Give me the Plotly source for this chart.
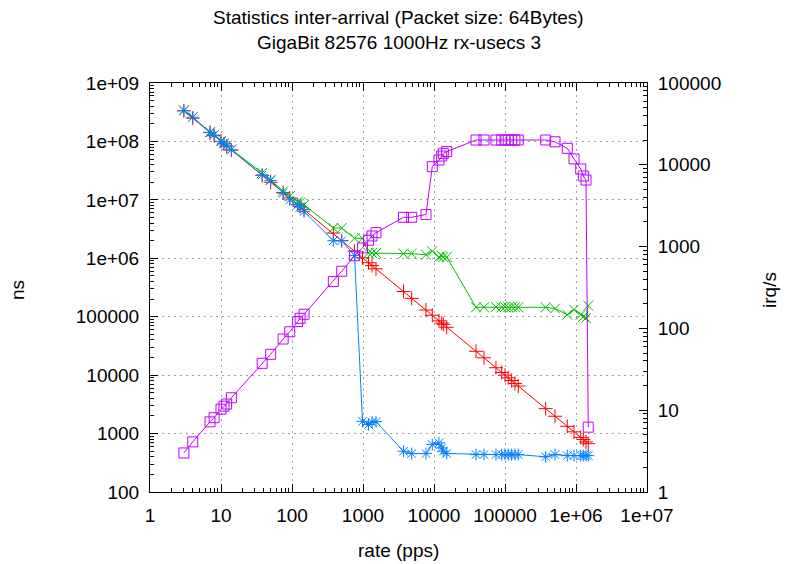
import plotly.graph_objects as go

# ---- data ----
rate_pps = [3, 4, 7, 8, 10, 11, 12, 14, 38, 50, 75, 93, 120, 130, 148,
            382, 501, 760, 984, 1195, 1340, 1525,
            3720, 4850, 7710, 9460, 11750, 12830, 13520, 15100,
            39080, 50600, 74600, 89900, 100000, 111000, 124000, 138000, 154000,
            374000, 506000, 754000, 937000, 1165000, 1268000, 1383000, 1488000]

red_ns = [3.33e8, 2.5e8, 1.43e8, 1.25e8, 1.0e8, 9.1e7, 8.3e7, 7.1e7, 2.63e7, 2.0e7, 1.33e7, 1.08e7, 8.3e6, 7.7e6, 6.8e6,
          2.7e6, 2.0e6, 1.32e6, 1.02e6, 8.4e5, 7.5e5, 6.6e5,
          2.7e5, 2.06e5, 1.3e5, 1.06e5, 8.5e4, 7.8e4, 7.4e4, 6.6e4,
          2.56e4, 1.98e4, 1.34e4, 1.11e4, 1.0e4, 9.0e3, 8.1e3, 7.2e3, 6.5e3,
          2670, 1980, 1330, 1070, 860, 790, 720, 672]

green_ns = [3.4e8, 2.6e8, 1.45e8, 1.3e8, 1.02e8, 9.3e7, 8.5e7, 7.3e7, 2.9e7, 2.2e7, 1.4e7, 1.15e7, 9.3e6, 9.0e6, 8.2e6,
            3.3e6, 3.3e6, 2.2e6, 2.2e6, 1.23e6, 1.23e6, 1.23e6,
            1.2e6, 1.2e6, 1.15e6, 1.32e6, 1.05e6, 1.1e6, 1.05e6, 1.05e6,
            1.45e5, 1.45e5, 1.47e5, 1.45e5, 1.47e5, 1.45e5, 1.47e5, 1.45e5, 1.45e5,
            1.45e5, 1.38e5, 1.08e5, 1.32e5, 1.08e5, 1.0e5, 9.5e4, 1.55e5]

blue_ns = [3.37e8, 2.6e8, 1.41e8, 1.29e8, 9.9e7, 9.3e7, 8.4e7, 7.2e7, 2.67e7, 2.14e7, 1.3e7, 1.0e7, 8.2e6, 7.5e6, 6.3e6,
           2.0e6, 2.0e6, 1.12e6, 1620, 1430, 1560, 1600,
           498, 455, 455, 649, 693, 569, 498, 455,
           437, 437, 437, 437, 437, 437, 437, 437, 437,
           400, 437, 420, 420, 420, 420, 420, 420]

magenta_irq = [3.0, 4.1, 7.2, 8.1, 10.3, 11.2, 11.9, 14.2, 37.4, 48.2, 74.2, 91, 121, 133, 149,
               374, 500, 772, 962, 1195, 1349, 1480,
               2280, 2280, 2470, 9490, 11450, 12800, 13800, 14500,
               20100, 20100, 20100, 20100, 20100, 20100, 20100, 20100, 20100,
               20100, 19100, 15900, 11800, 8890, 7300, 6510, 6.2]

x_ticks = [1, 10, 100, 1000, 10000, 100000, 1e6, 1e7]
x_ticktext = ["1", "10", "100", "1000", "10000", "100000", "1e+06", "1e+07"]
y_ticks = [1e2, 1e3, 1e4, 1e5, 1e6, 1e7, 1e8, 1e9]
y_ticktext = ["100", "1000", "10000", "100000", "1e+06", "1e+07", "1e+08", "1e+09"]
y2_ticks = [1, 10, 100, 1000, 10000, 100000]
y2_ticktext = ["1", "10", "100", "1000", "10000", "100000"]

title1 = "Statistics inter-arrival (Packet size: 64Bytes)"
title2 = "GigaBit 82576 1000Hz rx-usecs 3"

FONT = "Liberation Sans"
FS = 19


def minors(lo, hi):
    out = []
    for e in range(lo, hi):
        for m in range(2, 10):
            out.append(m * 10 ** e)
    return out


fig = go.Figure()

series = [
    (red_ns, "#ff0000", "cross-thin", "y"),
    (green_ns, "#00c000", "x-thin", "y"),
    (blue_ns, "#0080ff", "asterisk", "y"),
]
for vals, col, sym, ax in series:
    fig.add_trace(go.Scatter(
        x=rate_pps, y=vals, mode="lines+markers", yaxis=ax,
        line=dict(color=col, width=1),
        marker=dict(symbol=sym, size=10, color=col, line=dict(color=col, width=1)),
        showlegend=False))

fig.add_trace(go.Scatter(
    x=rate_pps, y=magenta_irq, mode="lines+markers", yaxis="y2",
    line=dict(color="#c000ff", width=1),
    marker=dict(symbol="square-open", size=10, color="#c000ff", line=dict(color="#c000ff", width=1)),
    showlegend=False))

axis_common = dict(
    type="log", ticks="inside", ticklen=8, tickcolor="black", tickwidth=1,
    showline=True, linecolor="black", linewidth=1, zeroline=False,
    tickfont=dict(family=FONT, size=FS, color="black"),
)

fig.update_layout(
    width=788, height=564,
    margin=dict(l=150, r=141, t=83, b=72),
    paper_bgcolor="white", plot_bgcolor="white",
    xaxis=dict(**axis_common, range=[0, 7], tickmode="array", tickvals=x_ticks, ticktext=x_ticktext,
               mirror="ticks", showgrid=True, gridcolor="#a0a0a0", griddash="2px,4px", gridwidth=1,
               ticklabelstandoff=6,
               minor=dict(ticks="inside", ticklen=4, tickcolor="black", tickmode="array",
                          tickvals=minors(0, 7), showgrid=False)),
    yaxis=dict(**axis_common, range=[2, 9], tickmode="array", tickvals=y_ticks, ticktext=y_ticktext,
               mirror=False, showgrid=True, gridcolor="#a0a0a0", griddash="2px,4px", gridwidth=1,
               ticklabelstandoff=6,
               minor=dict(ticks="inside", ticklen=4, tickcolor="black", tickmode="array",
                          tickvals=minors(2, 9), showgrid=False)),
    yaxis2=dict(**axis_common, range=[0, 5], tickmode="array", tickvals=y2_ticks, ticktext=y2_ticktext,
                overlaying="y", side="right", showgrid=False, ticklabelstandoff=6,
                minor=dict(ticks="inside", ticklen=4, tickcolor="black", tickmode="array",
                           tickvals=minors(0, 5), showgrid=False)),
    annotations=[
        dict(text=title1, xref="paper", yref="paper", x=0.5, y=1.159, showarrow=False,
             xanchor="center", yanchor="middle", font=dict(family=FONT, size=FS, color="black")),
        dict(text=title2, xref="paper", yref="paper", x=0.5, y=1.098, showarrow=False,
             xanchor="center", yanchor="middle", font=dict(family=FONT, size=FS, color="black")),
        dict(text="rate (pps)", xref="paper", yref="paper", x=0.5, y=-0.144, showarrow=False,
             xanchor="center", yanchor="middle", font=dict(family=FONT, size=FS, color="black")),
        dict(text="ns", xref="paper", yref="paper", x=-0.2656, y=0.494, showarrow=False, textangle=-90,
             xanchor="center", yanchor="middle", font=dict(family=FONT, size=FS, color="black")),
        dict(text="irq/s", xref="paper", yref="paper", x=1.2475, y=0.494, showarrow=False, textangle=-90,
             xanchor="center", yanchor="middle", font=dict(family=FONT, size=FS, color="black")),
    ],
)

fig.write_html("out.html")
